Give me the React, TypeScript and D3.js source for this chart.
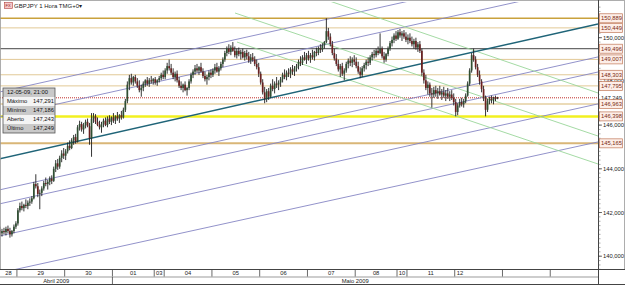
import React from 'react';
import * as d3 from 'd3';

// open, high, low, close (hourly GBPJPY)
type Candle = [number, number, number, number];

const d28: Candle[] = [
  [141.20, 141.35, 140.95, 141.05], [141.05, 141.25, 140.90, 141.15], [141.15, 141.30, 141.00, 141.10],
  [141.10, 141.35, 140.95, 141.25], [141.25, 141.40, 141.05, 141.15], [141.15, 141.30, 140.85, 141.00],
  [141.00, 141.20, 140.90, 141.15], [141.15, 141.45, 141.05, 141.35], [141.35, 141.60, 141.25, 141.50],
];
const d29: Candle[] = [
  [141.50, 142.20, 141.40, 142.10], [142.10, 142.45, 142.00, 142.30], [142.30, 142.50, 142.10, 142.20],
  [142.20, 142.40, 142.05, 142.35], [142.35, 142.60, 142.20, 142.30], [142.30, 142.55, 142.15, 142.45],
  [142.45, 142.65, 142.30, 142.50], [142.50, 142.75, 142.40, 142.65], [142.65, 143.40, 142.60, 143.30],
  [143.30, 143.75, 143.10, 143.20], [143.20, 143.35, 142.70, 142.85], [142.85, 143.05, 142.15, 142.90],
  [142.90, 143.20, 142.75, 143.10], [143.10, 143.45, 143.00, 143.35], [143.35, 143.60, 143.20, 143.30],
  [143.30, 143.50, 143.05, 143.40], [143.40, 143.65, 143.25, 143.55], [143.55, 143.70, 143.30, 143.45],
  [143.45, 144.10, 143.40, 144.00], [144.00, 144.40, 143.85, 144.25], [144.25, 144.45, 143.95, 144.10],
  [144.10, 144.60, 144.00, 144.50], [144.50, 144.85, 144.30, 144.70], [144.70, 144.95, 144.45, 144.60],
];
const d30: Candle[] = [
  [144.60, 144.90, 144.40, 144.80], [144.80, 145.20, 144.70, 145.05], [145.05, 145.30, 144.85, 144.95],
  [144.95, 145.40, 144.90, 145.30], [145.30, 145.55, 145.10, 145.45], [145.45, 145.60, 145.15, 145.25],
  [145.25, 146.00, 145.20, 145.90], [145.90, 146.20, 145.75, 146.05], [146.05, 146.15, 145.70, 145.80],
  [145.80, 146.10, 145.60, 146.00], [146.00, 146.25, 145.85, 146.15], [146.15, 146.30, 145.90, 145.95],
  [145.95, 146.10, 145.10, 145.40], [145.40, 146.55, 144.55, 146.30], [146.30, 146.55, 146.10, 146.40],
  [146.40, 146.50, 146.05, 146.15], [146.15, 146.35, 145.95, 146.00], [146.00, 146.20, 145.80, 145.90],
  [145.90, 146.15, 145.65, 146.05], [146.05, 146.30, 145.90, 146.20], [146.20, 146.35, 145.95, 146.00],
  [146.00, 146.40, 145.90, 146.30], [146.30, 146.45, 146.05, 146.15], [146.15, 146.40, 146.00, 146.35],
];
const d01: Candle[] = [
  [146.35, 146.55, 146.10, 146.20], [146.20, 146.45, 146.05, 146.40], [146.40, 146.60, 146.20, 146.30],
  [146.30, 146.50, 146.10, 146.45], [146.45, 146.65, 146.25, 146.35], [146.35, 146.80, 146.30, 146.70],
  [146.70, 147.20, 146.60, 147.10], [147.10, 148.00, 147.00, 147.85], [147.85, 148.30, 147.60, 148.15],
  [148.15, 148.35, 147.85, 147.95], [147.95, 148.25, 147.80, 148.20], [148.20, 148.30, 147.90, 148.00],
  [148.00, 148.15, 147.70, 147.80], [147.80, 148.05, 147.50, 147.60], [147.60, 147.85, 147.30, 147.70],
  [147.70, 148.00, 147.55, 147.90], [147.90, 148.10, 147.75, 148.05], [148.05, 148.20, 147.80, 147.90],
  [147.90, 148.15, 147.75, 148.05], [148.05, 148.25, 147.90, 148.00], [148.00, 148.15, 147.85, 148.10],
];
const d03: Candle[] = [
  [148.10, 148.20, 147.85, 147.95], [147.95, 148.10, 147.80, 148.05], [148.05, 148.25, 147.95, 148.15],
  [148.15, 148.40, 148.05, 148.30], [148.30, 148.50, 148.10, 148.20],
];
const d04: Candle[] = [
  [148.20, 148.60, 148.10, 148.50], [148.50, 148.85, 148.35, 148.70], [148.70, 149.00, 148.50, 148.60],
  [148.60, 148.80, 148.30, 148.40], [148.40, 148.60, 148.10, 148.20], [148.20, 148.45, 148.00, 148.35],
  [148.35, 148.50, 147.95, 148.05], [148.05, 148.20, 147.70, 147.80], [147.80, 148.00, 147.60, 147.70],
  [147.70, 147.90, 147.50, 147.85], [147.85, 148.00, 147.55, 147.60], [147.60, 147.75, 147.35, 147.70],
  [147.70, 148.10, 147.60, 148.00], [148.00, 148.40, 147.90, 148.30], [148.30, 148.55, 148.15, 148.45],
  [148.45, 148.75, 148.30, 148.60], [148.60, 148.80, 148.40, 148.50], [148.50, 148.70, 148.30, 148.65],
  [148.65, 148.85, 148.40, 148.45], [148.45, 148.60, 148.15, 148.25], [148.25, 148.45, 148.00, 148.10],
  [148.10, 148.30, 147.85, 148.20], [148.20, 148.50, 148.05, 148.40], [148.40, 148.55, 148.15, 148.30],
];
const d05: Candle[] = [
  [148.30, 148.60, 148.20, 148.50], [148.50, 148.80, 148.35, 148.65], [148.65, 148.85, 148.40, 148.45],
  [148.45, 148.70, 148.25, 148.60], [148.60, 148.90, 148.50, 148.80], [148.80, 149.10, 148.65, 149.00],
  [149.00, 149.40, 148.90, 149.30], [149.30, 149.60, 149.15, 149.50], [149.50, 149.70, 149.25, 149.35],
  [149.35, 149.65, 149.20, 149.55], [149.55, 149.80, 149.35, 149.40], [149.40, 149.60, 149.10, 149.20],
  [149.20, 149.50, 149.05, 149.40], [149.40, 149.55, 149.15, 149.25], [149.25, 149.45, 149.00, 149.35],
  [149.35, 149.50, 149.05, 149.10], [149.10, 149.40, 148.95, 149.30], [149.30, 149.45, 149.00, 149.15],
  [149.15, 149.35, 148.85, 148.95], [148.95, 149.25, 148.80, 149.10], [149.10, 149.30, 148.90, 149.00],
  [149.00, 149.15, 148.70, 148.80], [148.80, 149.00, 148.55, 148.65], [148.65, 148.85, 148.20, 148.35],
];
const d06: Candle[] = [
  [148.35, 148.45, 147.85, 147.95], [147.95, 148.10, 147.40, 147.50], [147.50, 147.75, 147.00, 147.20],
  [147.20, 147.65, 147.05, 147.55], [147.55, 147.70, 147.15, 147.30], [147.30, 147.90, 147.25, 147.80],
  [147.80, 148.10, 147.55, 147.65], [147.65, 148.00, 147.45, 147.90], [147.90, 148.20, 147.70, 147.85],
  [147.85, 148.05, 147.60, 147.95], [147.95, 148.20, 147.75, 148.10], [148.10, 148.40, 147.95, 148.30],
  [148.30, 148.55, 148.10, 148.20], [148.20, 148.50, 148.05, 148.40], [148.40, 148.60, 148.20, 148.35],
  [148.35, 148.65, 148.15, 148.55], [148.55, 148.75, 148.30, 148.45], [148.45, 148.70, 148.25, 148.60],
  [148.60, 148.80, 148.45, 148.70], [148.70, 149.00, 148.55, 148.90], [148.90, 149.15, 148.70, 148.85],
  [148.85, 149.20, 148.75, 149.10], [149.10, 149.35, 148.95, 149.00], [149.00, 149.30, 148.80, 149.20],
];
const d07: Candle[] = [
  [149.20, 149.40, 148.95, 149.05], [149.05, 149.30, 148.85, 149.20], [149.20, 149.45, 149.00, 149.10],
  [149.10, 149.40, 148.95, 149.35], [149.35, 149.55, 149.15, 149.30], [149.30, 149.60, 149.20, 149.50],
  [149.50, 149.70, 149.30, 149.45], [149.45, 149.75, 149.35, 149.65], [149.65, 149.85, 149.50, 149.80],
  [149.80, 150.89, 149.75, 150.30], [150.30, 150.45, 149.90, 150.05], [150.05, 150.20, 149.60, 149.70],
  [149.70, 149.85, 149.20, 149.30], [149.30, 149.50, 148.95, 149.05], [149.05, 149.25, 148.70, 148.80],
  [148.80, 149.00, 148.45, 148.55], [148.55, 148.80, 148.20, 148.70], [148.70, 148.85, 148.25, 148.35],
  [148.35, 148.60, 148.05, 148.50], [148.50, 148.90, 148.40, 148.80], [148.80, 149.05, 148.60, 148.95],
  [148.95, 149.15, 148.70, 148.85], [148.85, 149.10, 148.65, 149.00], [149.00, 149.20, 148.75, 148.90],
];
const d08: Candle[] = [
  [148.90, 149.10, 148.60, 148.70], [148.70, 148.90, 148.35, 148.45], [148.45, 148.65, 148.15, 148.30],
  [148.30, 148.70, 148.20, 148.60], [148.60, 148.85, 148.45, 148.75], [148.75, 149.00, 148.55, 148.90],
  [148.90, 149.10, 148.70, 148.85], [148.85, 149.20, 148.75, 149.10], [149.10, 149.35, 148.95, 149.25],
  [149.25, 149.45, 149.05, 149.20], [149.20, 149.50, 149.10, 149.40], [149.40, 149.60, 149.20, 149.30],
  [149.30, 150.20, 149.25, 149.50], [149.50, 149.60, 149.05, 149.15], [149.15, 149.35, 148.85, 149.00],
  [149.00, 149.30, 148.90, 149.25], [149.25, 149.60, 149.15, 149.50], [149.50, 149.85, 149.40, 149.75],
  [149.75, 150.05, 149.60, 149.90], [149.90, 150.20, 149.75, 150.10], [150.10, 150.30, 149.85, 149.95],
];
const d10: Candle[] = [
  [149.95, 150.35, 149.90, 150.25], [150.25, 150.40, 150.00, 150.10], [150.10, 150.30, 149.85, 150.20],
  [150.20, 150.35, 149.95, 150.05], [150.05, 150.25, 149.80, 149.90],
];
const d11: Candle[] = [
  [149.90, 150.15, 149.70, 150.00], [150.00, 150.20, 149.75, 149.85], [149.85, 150.05, 149.60, 149.70],
  [149.70, 149.95, 149.50, 149.85], [149.85, 150.00, 149.45, 149.55], [149.55, 149.80, 149.35, 149.70],
  [149.70, 149.85, 149.30, 149.40], [149.40, 149.50, 148.25, 148.40], [148.40, 148.55, 147.90, 148.05],
  [148.05, 148.30, 147.60, 147.70], [147.70, 148.00, 147.40, 147.85], [147.85, 147.95, 147.30, 147.45],
  [147.45, 147.70, 146.80, 147.40], [147.40, 147.75, 147.25, 147.60], [147.60, 147.80, 147.30, 147.45],
  [147.45, 147.70, 147.20, 147.55], [147.55, 147.80, 147.35, 147.40], [147.40, 147.65, 147.15, 147.50],
  [147.50, 147.75, 147.25, 147.35], [147.35, 147.60, 147.10, 147.45], [147.45, 147.70, 147.20, 147.30],
  [147.30, 147.55, 147.10, 147.40], [147.40, 147.60, 147.15, 147.25], [147.25, 147.45, 146.90, 147.05],
];
const d12: Candle[] = [
  [147.05, 147.20, 146.40, 146.60], [146.60, 147.00, 146.45, 146.90], [146.90, 147.20, 146.80, 147.05],
  [147.05, 147.25, 146.85, 146.95], [146.95, 147.20, 146.80, 147.10], [147.10, 147.45, 147.00, 147.35],
  [147.35, 148.00, 147.30, 147.90], [147.90, 148.60, 147.80, 148.50], [148.50, 149.30, 148.40, 149.20],
  [149.20, 149.50, 148.90, 149.00], [149.00, 149.15, 148.55, 148.65], [148.65, 148.80, 148.20, 148.30],
  [148.30, 148.50, 147.85, 148.00], [148.00, 148.10, 147.50, 147.65], [147.65, 147.80, 147.10, 147.25],
  [147.25, 147.35, 146.40, 146.70], [146.70, 147.20, 146.60, 147.10], [147.10, 147.30, 146.95, 147.20],
  [147.20, 147.35, 147.00, 147.15], [147.15, 147.30, 146.95, 147.25], [147.25, 147.35, 147.10, 147.24],
  [147.243, 147.291, 147.186, 147.249],
];

const dayCandles = [d28, d29, d30, d01, d03, d04, d05, d06, d07, d08, d10, d11, d12];
const dayLabels = ['28', '29', '30', '01', '03', '04', '05', '06', '07', '08', '10', '11', '12', '', ''];
const daySlots = [9, 24, 24, 21, 5, 24, 24, 24, 24, 21, 5, 24, 24, 24, 24];
const monthLabels = ['Abril 2009', 'Maio 2009'];
const monthDays = [3, 12];

const priceTicks = [140, 142, 144, 146, 148, 150];
const levelValues = [150.889, 150.449, 149.496, 149.007, 148.303, 147.795, 147.249, 146.963, 146.398, 145.165];
const levelKinds = ['gold', 'tan', 'black', 'tan', 'tan', 'tan', 'last', 'tan2', 'yellow', 'tan3'];

// trend lines: [slotA, priceA, slotB, priceB]
const channelLines = [
  [0, 147.51, 301, 153.60], [0, 146.37, 301, 152.46], [0, 143.03, 301, 149.12],
  [0, 142.39, 301, 148.43], [0, 140.92, 301, 146.97], [0, 139.23, 301, 145.23],
];
const mainTrend = [0, 144.45, 301, 150.63];
const fanLines = [
  [164.8, 151.72, 301, 147.47], [118.6, 151.13, 301, 145.50], [119.6, 149.80, 301, 144.22],
];

const infoRows = [
  ['12-05-09, 21:00', ''], ['Máximo', '147,291'], ['Mínimo', '147,186'], ['Aberto', '147,243'], ['Último', '147,249'],
];

const levelStyle: Record<string, any> = {
  gold: { stroke: '#c9a13c', width: 1.4 },
  tan: { stroke: '#e2c996', width: 1 },
  tan2: { stroke: '#e4cfa0', width: 1.5 },
  tan3: { stroke: '#d9b677', width: 2 },
  black: { stroke: '#444444', width: 1 },
  yellow: { stroke: '#f2f020', width: 2.5 },
  last: { stroke: '#c0302c', width: 1, dash: '1,1' },
};

const fmt = (v: number) => v.toFixed(3).replace('.', ',');
const FONT = 'Liberation Sans, Arial, sans-serif';

export default function App() {
  const right = 598;
  const top = 2;
  const bottom = 269;
  const x = d3.scaleLinear().domain([0, 301]).range([-1, 598]);
  const y = d3.scaleLinear().domain([140, 150]).range([256.2, 37.7]);
  const slot = x(1) - x(0);

  const candles = dayCandles.flat();
  const ends = Array.from(d3.cumsum(daySlots));
  const starts = ends.map((e, i) => e - daySlots[i]);
  const monthEnds = Array.from(d3.cumsum(monthDays));

  const minorTicks = d3.range(139.4, 151.6, 0.2);
  const lineOf = (l: number[]) => (
    `M${x(l[0])},${y(l[1])}L${x(l[2])},${y(l[3])}`
  );

  return (
    <svg width={625} height={285} style={{ position: 'absolute', left: 0, top: 0, background: '#fff' }}
      fontFamily={FONT}>
      <defs>
        <clipPath id="plot">
          <rect x={0} y={top} width={right} height={bottom - top} />
        </clipPath>
      </defs>
      <rect x={0} y={0} width={625} height={285} fill="#fff" />

      <g clipPath="url(#plot)">
        {levelValues.map((v, i) => {
          const s = levelStyle[levelKinds[i]];
          return <line key={'lv' + i} x1={0} x2={right} y1={y(v)} y2={y(v)} stroke={s.stroke}
            strokeWidth={s.width} strokeDasharray={s.dash} />;
        })}
        {channelLines.map((l, i) => (
          <path key={'ch' + i} d={lineOf(l)} stroke="#8686c4" strokeWidth={0.9} fill="none" />
        ))}
        {fanLines.map((l, i) => (
          <path key={'fn' + i} d={lineOf(l)} stroke="#9ad69a" strokeWidth={0.9} fill="none" />
        ))}
        <path d={lineOf(mainTrend)} stroke="#1f6478" strokeWidth={1.6} fill="none" />

        {candles.map((c, i) => {
          const [o, h, l, cl] = c;
          const cx = x(i + 0.5);
          const up = cl >= o;
          const y0 = y(Math.max(o, cl));
          const y1 = y(Math.min(o, cl));
          return (
            <g key={'c' + i}>
              <line x1={cx} x2={cx} y1={y(h)} y2={y(l)} stroke="#1e1e1e" strokeWidth={0.9} />
              <rect x={cx - slot * 0.42} width={slot * 0.84} y={y0} height={Math.max(0.9, y1 - y0)}
                fill={up ? '#2f4f32' : '#6a2020'} />
            </g>
          );
        })}
      </g>

      {/* title */}
      <rect x={4.5} y={2.5} width={8} height={6} fill="#f6c8c8" stroke="#b04040" strokeWidth={0.6} />
      <text x={5.6} y={7.4} fontSize={4} fill="#902020">FX</text>
      <text x={14} y={8} fontSize={6} fill="#222">GBPJPY 1 Hora TMG+0▾</text>

      {/* info box */}
      <g>
        {infoRows.map((r, i) => (
          <g key={'ir' + i}>
            <rect x={3} y={88 + i * 9} width={52} height={9} fill={i % 2 === 0 ? '#c9c9c9' : '#f4f4f4'} />
            <text x={7} y={94.3 + i * 9} fontSize={5.8} fill="#111">{r[0]}</text>
            <text x={33} y={94.3 + i * 9} fontSize={5.8} fill="#111">{r[1]}</text>
          </g>
        ))}
        <rect x={3} y={88} width={52} height={45} fill="none" stroke="#555" strokeWidth={0.8} />
      </g>

      {/* frame */}
      <rect x={0.5} y={0.5} width={624} height={284} fill="none" stroke="#9a9a9a" strokeWidth={0.8} />

      {/* price axis */}
      <line x1={right + 0.5} x2={right + 0.5} y1={0} y2={285} stroke="#444" strokeWidth={1} />
      {minorTicks.map((v, i) => (
        <line key={'mt' + i} x1={right} x2={right + 2.5} y1={y(v)} y2={y(v)} stroke="#555" strokeWidth={0.5} />
      ))}
      {priceTicks.map((v) => (
        <g key={'pt' + v}>
          <line x1={right} x2={right + 4} y1={y(v)} y2={y(v)} stroke="#333" strokeWidth={0.7} />
          <text x={right + 5} y={y(v) + 2} fontSize={5.8} fill="#222">{fmt(v)}</text>
        </g>
      ))}
      {levelValues.map((v, i) => (
        levelKinds[i] === 'last' ? (
          <g key={'lb' + i}>
            <rect x={right + 1.5} y={y(v) - 4} width={23} height={8} fill="#fff" />
            <text x={right + 3} y={y(v) + 2} fontSize={5.8} fill="#222">{fmt(v)}</text>
          </g>
        ) : (
          <g key={'lb' + i}>
            <rect x={right + 1.5} y={y(v) - 4.5} width={23} height={9} fill="#fdeee8" stroke="#c07858" strokeWidth={0.7} />
            <text x={right + 3} y={y(v) + 2} fontSize={5.8} fill="#7a2a10">{fmt(v)}</text>
          </g>
        )
      ))}

      {/* time axis */}
      <rect x={0} y={bottom} width={625} height={16} fill="#fff" />
      <line x1={0} x2={625} y1={bottom + 0.5} y2={bottom + 0.5} stroke="#444" strokeWidth={1} />
      <line x1={0} x2={right} y1={277} y2={277} stroke="#bdbdbd" strokeWidth={1.6} />
      <line x1={0} x2={625} y1={284.5} y2={284.5} stroke="#444" strokeWidth={1} />
      <line x1={right + 0.5} x2={right + 0.5} y1={bottom} y2={285} stroke="#444" strokeWidth={1} />
      {starts.map((s, i) => (
        i > 0 ? <line key={'ds' + i} x1={x(s)} x2={x(s)} y1={bottom} y2={276.5} stroke="#444" strokeWidth={0.8} /> : null
      ))}
      {dayLabels.map((lab, i) => {
        const isLast = i === dayCandles.length - 1;
        const cx = isLast ? x(starts[i]) + 2 : (Math.max(0, x(starts[i])) + x(ends[i])) / 2;
        return <text key={'dl' + i} x={cx} y={275.3} fontSize={5.8} fill="#222"
          textAnchor={isLast ? 'start' : 'middle'}>{lab}</text>;
      })}
      {monthLabels.map((m, i) => {
        const a = i === 0 ? 0 : starts[monthEnds[i - 1]];
        const b = i === monthLabels.length - 1 ? 301 : starts[monthEnds[i]];
        return (
          <g key={'ml' + i}>
            {i > 0 ? <line x1={x(a)} x2={x(a)} y1={277} y2={284.5} stroke="#444" strokeWidth={0.8} /> : null}
            <text x={(Math.max(0, x(a)) + x(b)) / 2} y={283.2} fontSize={5.8} fill="#222" textAnchor="middle">{m}</text>
          </g>
        );
      })}
    </svg>
  );
}
